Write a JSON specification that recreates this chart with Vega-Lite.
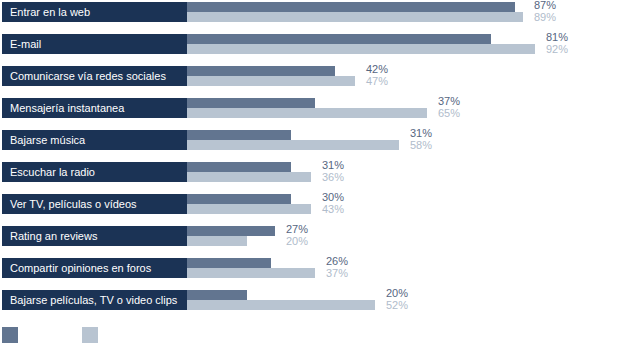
{
  "$schema": "https://vega.github.io/schema/vega-lite/v6.json",
  "padding": {"left": 2, "top": 0, "right": 0, "bottom": 0},
  "background": "white",
  "config": {"view": {"stroke": null}, "font": "Liberation Sans"},
  "data": {"values": [
    {"cat": "Entrar en la web", "serie": "A", "v": 87, "label": "87%"},
    {"cat": "Entrar en la web", "serie": "B", "v": 89, "label": "89%"},
    {"cat": "E-mail", "serie": "A", "v": 81, "label": "81%"},
    {"cat": "E-mail", "serie": "B", "v": 92, "label": "92%"},
    {"cat": "Comunicarse vía redes sociales", "serie": "A", "v": 42, "label": "42%"},
    {"cat": "Comunicarse vía redes sociales", "serie": "B", "v": 47, "label": "47%"},
    {"cat": "Mensajería instantanea", "serie": "A", "v": 37, "label": "37%"},
    {"cat": "Mensajería instantanea", "serie": "B", "v": 65, "label": "65%"},
    {"cat": "Bajarse música", "serie": "A", "v": 31, "label": "31%"},
    {"cat": "Bajarse música", "serie": "B", "v": 58, "label": "58%"},
    {"cat": "Escuchar la radio", "serie": "A", "v": 31, "label": "31%"},
    {"cat": "Escuchar la radio", "serie": "B", "v": 36, "label": "36%"},
    {"cat": "Ver TV, películas o vídeos", "serie": "A", "v": 31, "label": "30%"},
    {"cat": "Ver TV, películas o vídeos", "serie": "B", "v": 36, "label": "43%"},
    {"cat": "Rating an reviews", "serie": "A", "v": 27, "label": "27%"},
    {"cat": "Rating an reviews", "serie": "B", "v": 20, "label": "20%"},
    {"cat": "Compartir opiniones en foros", "serie": "A", "v": 26, "label": "26%"},
    {"cat": "Compartir opiniones en foros", "serie": "B", "v": 37, "label": "37%"},
    {"cat": "Bajarse películas, TV o video clips", "serie": "A", "v": 20, "label": "20%"},
    {"cat": "Bajarse películas, TV o video clips", "serie": "B", "v": 52, "label": "52%"}
  ]},
  "spacing": 0,
  "hconcat": [
    {
      "width": 185,
      "height": 308,
      "transform": [{"filter": "datum.serie === 'A'"}],
      "layer": [
        {
          "mark": {"type": "rect", "color": "#1b3355"},
          "encoding": {
            "y": {"field": "cat", "type": "nominal", "sort": null, "axis": null,
                  "scale": {"paddingInner": 0.375, "paddingOuter": 0}}
          }
        },
        {
          "mark": {"type": "text", "align": "left", "baseline": "middle", "dx": 8, "dy": 1, "fontSize": 11, "color": "white"},
          "encoding": {
            "x": {"value": 0},
            "y": {"field": "cat", "type": "nominal", "sort": null, "axis": null,
                  "scale": {"paddingInner": 0.375, "paddingOuter": 0}},
            "text": {"field": "cat"}
          }
        }
      ]
    },
    {
      "width": 436,
      "height": 308,
      "transform": [{"joinaggregate": [{"op": "max", "field": "v", "as": "m"}], "groupby": ["cat"]}],
      "layer": [
        {
          "mark": {"type": "bar", "clip": true},
          "encoding": {
            "y": {"field": "cat", "type": "nominal", "sort": null, "axis": null,
                  "scale": {"paddingInner": 0.375, "paddingOuter": 0}},
            "yOffset": {"field": "serie", "type": "nominal", "scale": {"paddingInner": 0, "paddingOuter": 0}},
            "x": {"field": "v", "type": "quantitative", "axis": null, "scale": {"domain": [5, 114], "zero": false, "nice": false}},
            "color": {"field": "serie", "type": "nominal",
                      "scale": {"domain": ["A", "B"], "range": ["#627590", "#b8c4d1"]},
                      "legend": {"title": null, "orient": "none", "legendX": 0, "legendY": 325, "direction": "horizontal",
                                 "symbolType": "square", "symbolSize": 256, "symbolStrokeWidth": 0,
                                 "labelExpr": "''", "labelOffset": 0, "columnPadding": 64}}
          }
        },
        {
          "transform": [{"filter": "datum.serie === 'A'"}],
          "mark": {"type": "text", "align": "left", "baseline": "middle", "dx": 11, "dy": -1, "fontSize": 11, "color": "#56667f"},
          "encoding": {
            "y": {"field": "cat", "type": "nominal", "sort": null, "axis": null,
                  "scale": {"paddingInner": 0.375, "paddingOuter": 0}},
            "yOffset": {"field": "serie", "type": "nominal", "scale": {"paddingInner": 0, "paddingOuter": 0}},
            "x": {"field": "m", "type": "quantitative"},
            "text": {"field": "label"}
          }
        },
        {
          "transform": [{"filter": "datum.serie === 'B'"}],
          "mark": {"type": "text", "align": "left", "baseline": "middle", "dx": 11, "dy": 1, "fontSize": 11, "color": "#b0bccb"},
          "encoding": {
            "y": {"field": "cat", "type": "nominal", "sort": null, "axis": null,
                  "scale": {"paddingInner": 0.375, "paddingOuter": 0}},
            "yOffset": {"field": "serie", "type": "nominal", "scale": {"paddingInner": 0, "paddingOuter": 0}},
            "x": {"field": "m", "type": "quantitative"},
            "text": {"field": "label"}
          }
        }
      ]
    }
  ]
}
